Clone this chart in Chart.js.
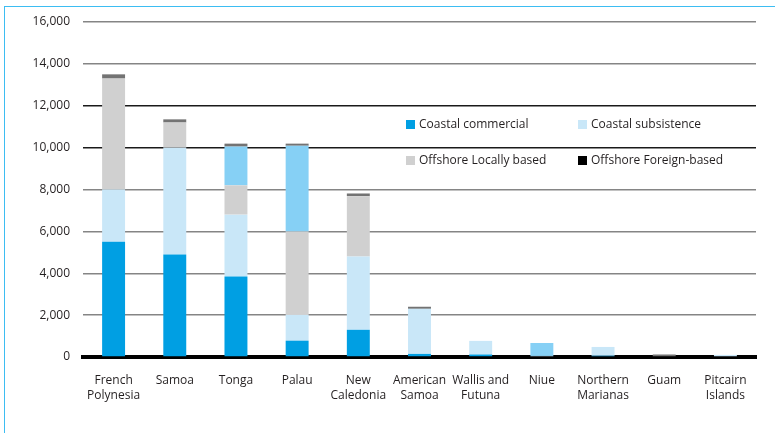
<!DOCTYPE html>
<html>
<head>
<meta charset="utf-8">
<script src="https://cdn.jsdelivr.net/npm/chart.js@4.4.1/dist/chart.umd.min.js"></script>
<style>
  html, body { margin: 0; padding: 0; background: #fff; }
  #wrap { position: relative; width: 775px; height: 433px; }
  #frame { position: absolute; left: 4px; top: 6px; right: 0; bottom: 0;
           border-left: 1px solid #3dbdf2; border-top: 1px solid #3dbdf2; }
  #legend { position: absolute; left: 0; top: 0; font: 12px "Open Sans", sans-serif; color: #231f20; }
  .item { position: absolute; white-space: nowrap; line-height: 16px; }
  .box { display: inline-block; width: 9px; height: 9px; margin-right: 4px; vertical-align: -1px; }
</style>
</head>
<body>
<div id="wrap">
  <div id="frame"></div>
  <canvas id="catchChart" width="775" height="433"></canvas>
  <div id="legend"></div>
</div>
<script>
// countries / territories on the x axis
var countries = [
    ['French', 'Polynesia'], 'Samoa', 'Tonga', 'Palau', ['New', 'Caledonia'],
    ['American', 'Samoa'], ['Wallis and', 'Futuna'], 'Niue',
    ['Northern', 'Marianas'], 'Guam', ['Pitcairn', 'Islands']
];

// catch volumes by sector (tonnes)
var coastalCommercial  = [5500, 4900, 3850,  780, 1300,  150, 120,   0,  60,   0,   0];
var coastalSubsistence = [2500, 5100, 2950, 1230, 3500, 2150, 650,  50, 420,   0, 100];
var offshoreLocal      = [5300, 1200, 1400, 3980, 2880,    0,   0,   0,   0,   0,   0];
var unlabelledCatch    = [   0,    0, 1850, 4100,    0,    0,   0, 620,   0,   0,   0];
var offshoreForeign    = [ 200,  150,  140,  100,  130,  100,   0,   0,   0, 120,   0];

var yTicks = [0, 2000, 4000, 6000, 8000, 10000, 12000, 14000, 16000];

var seriesNames = ['Coastal commercial', 'Coastal subsistence', 'Offshore Locally based', '', 'Offshore Foreign-based'];
var barColors = ['#009fe3', '#c9e7f8', '#d0d0d0', '#86d0f5', '#737373'];
var legendColors = ['#009fe3', '#c9e7f8', '#d0d0d0', null, '#000000'];

var fontFamily = '"Open Sans", sans-serif';

var seriesData = [coastalCommercial, coastalSubsistence, offshoreLocal, unlabelledCatch, offshoreForeign];
var datasets = seriesData.map(function (d, i) {
    return {
        label: seriesNames[i],
        data: d,
        backgroundColor: barColors[i],
        borderWidth: 0,
        barPercentage: 0.375,
        categoryPercentage: 1
    };
});

var catchCtx = document.getElementById('catchChart').getContext('2d');
var catchChart = new Chart(catchCtx, {
    type: 'bar',
    data: {
        labels: countries,
        datasets: datasets
    },
    options: {
        responsive: false,
        animation: false,
        layout: { padding: { top: 22, right: 19, left: 0, bottom: 0 } },
        plugins: {
            legend: { display: false },
            tooltip: { enabled: false }
        },
        scales: {
            x: {
                stacked: true,
                grid: { display: false },
                border: { display: true, color: '#000', width: 4 },
                ticks: {
                    color: '#231f20',
                    padding: 8,
                    maxRotation: 0,
                    autoSkip: false,
                    font: { family: fontFamily, size: 12, lineHeight: 1.25 }
                },
                afterFit: function (scale) { scale.height = 76; }
            },
            y: {
                stacked: true,
                min: 0,
                max: 16000,
                afterBuildTicks: function (scale) {
                    scale.ticks = yTicks.map(function (v) { return { value: v }; });
                },
                border: { display: false },
                grid: {
                    drawTicks: false,
                    lineWidth: 1.5,
                    color: function (c) {
                        var v = c.tick ? c.tick.value : 0;
                        return (v === 10000 || v === 12000) ? '#1a1a1a' : '#858585';
                    }
                },
                ticks: {
                    color: '#231f20',
                    padding: 13,
                    font: { family: fontFamily, size: 12 },
                    callback: function (v) { return Number(v).toLocaleString('en-US'); }
                },
                afterFit: function (scale) { scale.width = 83; }
            }
        }
    }
});

// legend in two rows inside the plot area, the unnamed series is left out
var legendSpots = [[406, 116], [578, 116], [406, 152], null, [578, 152]];
var legendEl = document.getElementById('legend');
seriesNames.forEach(function (name, i) {
    if (!name) return;
    var item = document.createElement('div');
    item.className = 'item';
    item.style.left = legendSpots[i][0] + 'px';
    item.style.top = legendSpots[i][1] + 'px';
    item.innerHTML = '<span class="box" style="background:' + legendColors[i] + '"></span>' + name;
    legendEl.appendChild(item);
});
</script>
</body>
</html>
